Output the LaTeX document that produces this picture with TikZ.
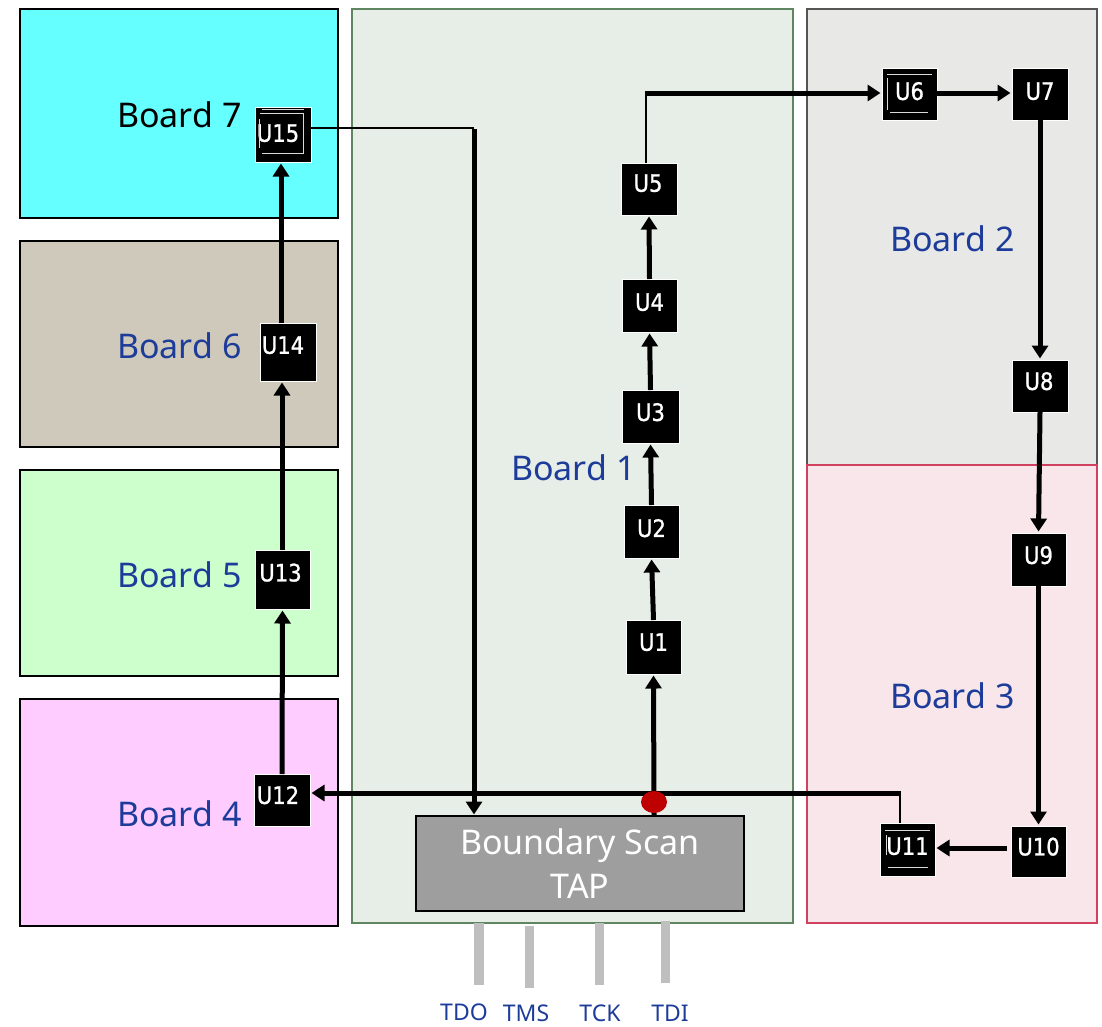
\documentclass[tikz,border=0pt]{standalone}
\usepackage{fontspec}
\setmainfont{Noto Sans}
\newfontfamily\chipfont[FakeBold=1,FakeStretch=0.88]{DejaVu Sans}
\usetikzlibrary{arrows.meta,shapes.geometric}
\definecolor{labelblue}{HTML}{1D3C9A}
\definecolor{bAfill}{HTML}{E7EEE7}\definecolor{bAline}{HTML}{5F8660}
\definecolor{bBfill}{HTML}{E8E8E6}\definecolor{bBline}{HTML}{555555}
\definecolor{bCfill}{HTML}{F8E6EA}\definecolor{bCline}{HTML}{D0405F}
\definecolor{bGfill}{HTML}{66FFFF}
\definecolor{bFfill}{HTML}{CFC9BB}
\definecolor{bEfill}{HTML}{CCFFCC}
\definecolor{bDfill}{HTML}{FFCCFF}
\tikzset{
  x=1pt,y=-1pt,
  boardbox/.style={draw=#1,line width=1.6pt,inner sep=0,outer sep=0},
  boardlabel/.style={text=labelblue,font=\fontsize{34}{36}\selectfont,inner sep=0,anchor=west},
  chip/.style={fill=black,draw=white,line width=.8pt,text=white,inner sep=0,outer sep=0,
    font=\chipfont\fontsize{24}{26}\selectfont},
  frame/.style={draw=white!85!black,line width=1pt},
  link/.style={line width=5pt,-{Triangle[length=13pt,width=16pt]},shorten >=1.5pt},
  thinlink/.style={line width=2.2pt},
  stub/.style={fill=black!25,inner sep=0,outer sep=0,minimum width=9.5pt,minimum height=62pt},
  pinlabel/.style={text=labelblue,font=\fontsize{23}{25}\selectfont,inner sep=0},
}
\newcommand{\boardat}[7]{\node[boardbox=#6,fill=#7,minimum width=#3pt-#1pt,minimum height=#4pt-#2pt,anchor=north west] (#5) at (#1,#2) {};}
% \chipat[label]{x0}{y0}{x1}{y1}{name}{lift}{left shift}: text is moved by half of the given boxes
\newcommand{\chipat}[8][]{\node[chip,minimum width=#4pt-#2pt,minimum height=#5pt-#3pt] (#6) at ({(#2+#4)/2},{(#3+#5)/2}) {\raisebox{#7pt}{#1\kern#8pt}};}
\begin{document}
\begin{tikzpicture}
\useasboundingbox (0,0) rectangle (1102,1026);
% boards
\boardat{352}{9}{793}{923}{b1}{bAline}{bAfill}
\boardat{807}{9}{1097}{465}{b2}{bBline}{bBfill}
\boardat{807}{465}{1097}{923}{b3}{bCline}{bCfill}
\boardat{20}{9}{338}{218}{b7}{black}{bGfill}
\boardat{20}{241}{338}{447}{b6}{black}{bFfill}
\boardat{20}{470}{338}{676}{b5}{black}{bEfill}
\boardat{20}{699}{338}{926}{b4}{black}{bDfill}
\node[boardlabel,text=black] (l7) at (117,115) {Board 7};
\node[boardlabel] (l6) at (117,346) {Board 6};
\node[boardlabel] (l5) at (117,575) {Board 5};
\node[boardlabel] (l4) at (117,814) {Board 4};
\node[boardlabel] (l1) at (511,468) {Board 1};
\node[boardlabel] (l2) at (890,239) {Board 2};
\node[boardlabel] (l3) at (890,696) {Board 3};
% TAP
\node[draw=black,line width=2pt,fill=black!38,minimum width=328pt,minimum height=95pt,inner sep=0,outer sep=0,
  text=white,align=center,font=\fontsize{34}{44}\selectfont,anchor=north west] (tap) at (416,816)
  {Boundary Scan\\TAP};
% chips
\chipat[U1]{626}{620}{681}{674}{u1}{10}{0}
\chipat[U2]{624}{505}{679}{558}{u2}{7}{0}
\chipat[U3]{622}{390}{679}{443}{u3}{9}{0}
\chipat[U4]{622}{279}{677}{332}{u4}{7}{0}
\chipat[U5]{621}{163}{677}{215}{u5}{12}{2}
\chipat[U6]{882}{68}{937}{120}{u6}{6}{0}
\chipat[U7]{1012}{68}{1068}{120}{u7}{6}{0}
\chipat[U8]{1012}{360}{1068}{412}{u8}{10}{2}
\chipat[U9]{1011}{533}{1066}{586}{u9}{9}{0}
\chipat[U10]{1011}{826}{1066}{877}{u10}{10}{0}
\chipat[U11]{880}{823}{935}{876}{u11}{7}{0}
\chipat[U12]{254}{774}{310}{826}{u12}{10}{8}
\chipat[U13]{255}{550}{310}{609}{u13}{14}{4}
\chipat[U14]{260}{323}{316}{381}{u14}{14}{10}
\chipat[U15]{255}{107}{311}{162}{u15}{3}{10}
\draw[frame] (262,109) -- (304,109) (260,113) -- (303,113) -- (303,153) -- (262,153) (259,119) -- (259,148);
\draw[frame] (887,74) -- (932,74) (887,78) -- (887,110) (890,112) -- (928,112);
\draw[frame] (885,830) -- (930,830) (886,835) -- (886,855) (888,867) -- (928,867);
% junction and bends
\coordinate (tapin) at (654,816);
\coordinate (tapout) at (474,816);
\coordinate (bendA) at (646,93);
\coordinate (bendB) at (474,128);
\coordinate (bendC) at (900,793);
\coordinate (u15out) at (311,128);
\coordinate (u10out) at (1007,848);
\coordinate (u11in) at (935,848);
% connectors
\draw[link] (tapin) -- (u1.south);
\draw[link] (u1.north) -- (u2.south);
\draw[link] (u2.north) -- (u3.south);
\draw[link] (u3.north) -- (u4.south);
\draw[link] (u4.north) -- (u5.south);
\draw[thinlink] (u5.north -| bendA) -- (bendA);
\draw[link] ([xshift=-1pt]bendA) -- (u6.west |- bendA);
\draw[link] (u6.east |- bendA) -- (u7.west |- bendA);
\draw[link] (u7.south) -- (u8.north);
\draw[link] (u8.south) -- (u9.north);
\draw[link] (u9.south) -- (u10.north);
\draw[link] (u10out) -- (u11in);
\draw[thinlink] (u11.north -| bendC) -- (bendC);
\draw[link] ([xshift=1pt]bendC) -- (u12.east |- bendC);
\draw[link] (u12.north) -- (u13.south);
\draw[link] ([xshift=-.5pt]u13.north) -- ([xshift=-6pt]u14.south);
\draw[link] ([xshift=-7pt]u14.north) -- ([xshift=-2pt]u15.south);
\draw[thinlink] (u15out) -- (bendB);
\draw[link] ([yshift=-1pt]bendB) -- (tapout);
% dot
\node[ellipse,fill=red!75!black,minimum width=26pt,minimum height=22pt,inner sep=0] (dot) at (654,802) {};
% pins
\node[stub] (p1) at (479,954) {};
\node[stub] (p2) at (529.5,957) {};
\node[stub] (p3) at (599.5,954) {};
\node[stub] (p4) at (665.5,952) {};
\node[pinlabel] (t1) at (464,1012) {TDO};
\node[pinlabel] (t2) at (526,1013) {TMS};
\node[pinlabel] (t3) at (600,1013) {TCK};
\node[pinlabel] (t4) at (670,1013) {TDI};
\end{tikzpicture}
\end{document}
